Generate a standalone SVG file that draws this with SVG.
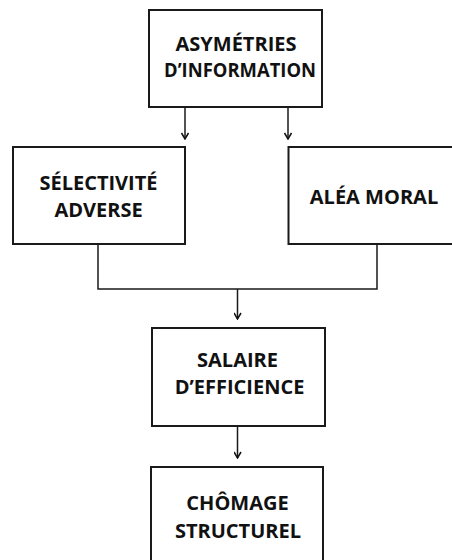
<svg xmlns="http://www.w3.org/2000/svg" width="452" height="560" viewBox="0 0 452 560">
<defs>
<marker id="ah" markerWidth="8" markerHeight="8" refX="7.5" refY="4" orient="auto" markerUnits="userSpaceOnUse" viewBox="0 0 8 8">
<path d="M1.5,0.5 L7.5,4 L1.5,7.5" fill="none" stroke="#111" stroke-width="1.5"/>
</marker>
<style>
.box{fill:#fff;stroke:#1a1a1a;stroke-width:2}
.t{font-family:"Open Sans","DejaVu Sans",sans-serif;font-weight:700;font-size:20px;fill:#111;text-anchor:middle}
.c{fill:none;stroke:#1a1a1a;stroke-width:1.5}
</style>
</defs>
<rect width="452" height="560" fill="#fff"/>
<g id="connectors">
<line class="c" x1="185" y1="108" x2="185" y2="139" marker-end="url(#ah)"/>
<line class="c" x1="288" y1="108" x2="288" y2="139" marker-end="url(#ah)"/>
<polyline class="c" points="98,245 98,289 377,289 377,245"/>
<line class="c" x1="237.5" y1="289" x2="237.5" y2="319" marker-end="url(#ah)"/>
<line class="c" x1="237.5" y1="427" x2="237.5" y2="458" marker-end="url(#ah)"/>
</g>
<g id="asymetries">
<rect class="box" x="149" y="10" width="173" height="97"/>
<text class="t" x="236" y="51">ASYMÉTRIES</text>
<text class="t" x="240" y="77" textLength="152" lengthAdjust="spacingAndGlyphs">D’INFORMATION</text>
</g>
<g id="selectivite">
<rect class="box" x="13" y="147" width="172" height="97"/>
<text class="t" x="98.5" y="190">SÉLECTIVITÉ</text>
<text class="t" x="98.5" y="217">ADVERSE</text>
</g>
<g id="alea">
<rect class="box" x="288.5" y="147" width="166" height="97"/>
<text class="t" x="374" y="204">ALÉA MORAL</text>
</g>
<g id="salaire">
<rect class="box" x="152" y="328" width="173" height="98"/>
<text class="t" x="237.5" y="367">SALAIRE</text>
<text class="t" x="239.5" y="394">D’EFFICIENCE</text>
</g>
<g id="chomage">
<rect class="box" x="151" y="467" width="172" height="100"/>
<text class="t" x="237.5" y="510">CHÔMAGE</text>
<text class="t" x="238" y="538">STRUCTUREL</text>
</g>
</svg>
